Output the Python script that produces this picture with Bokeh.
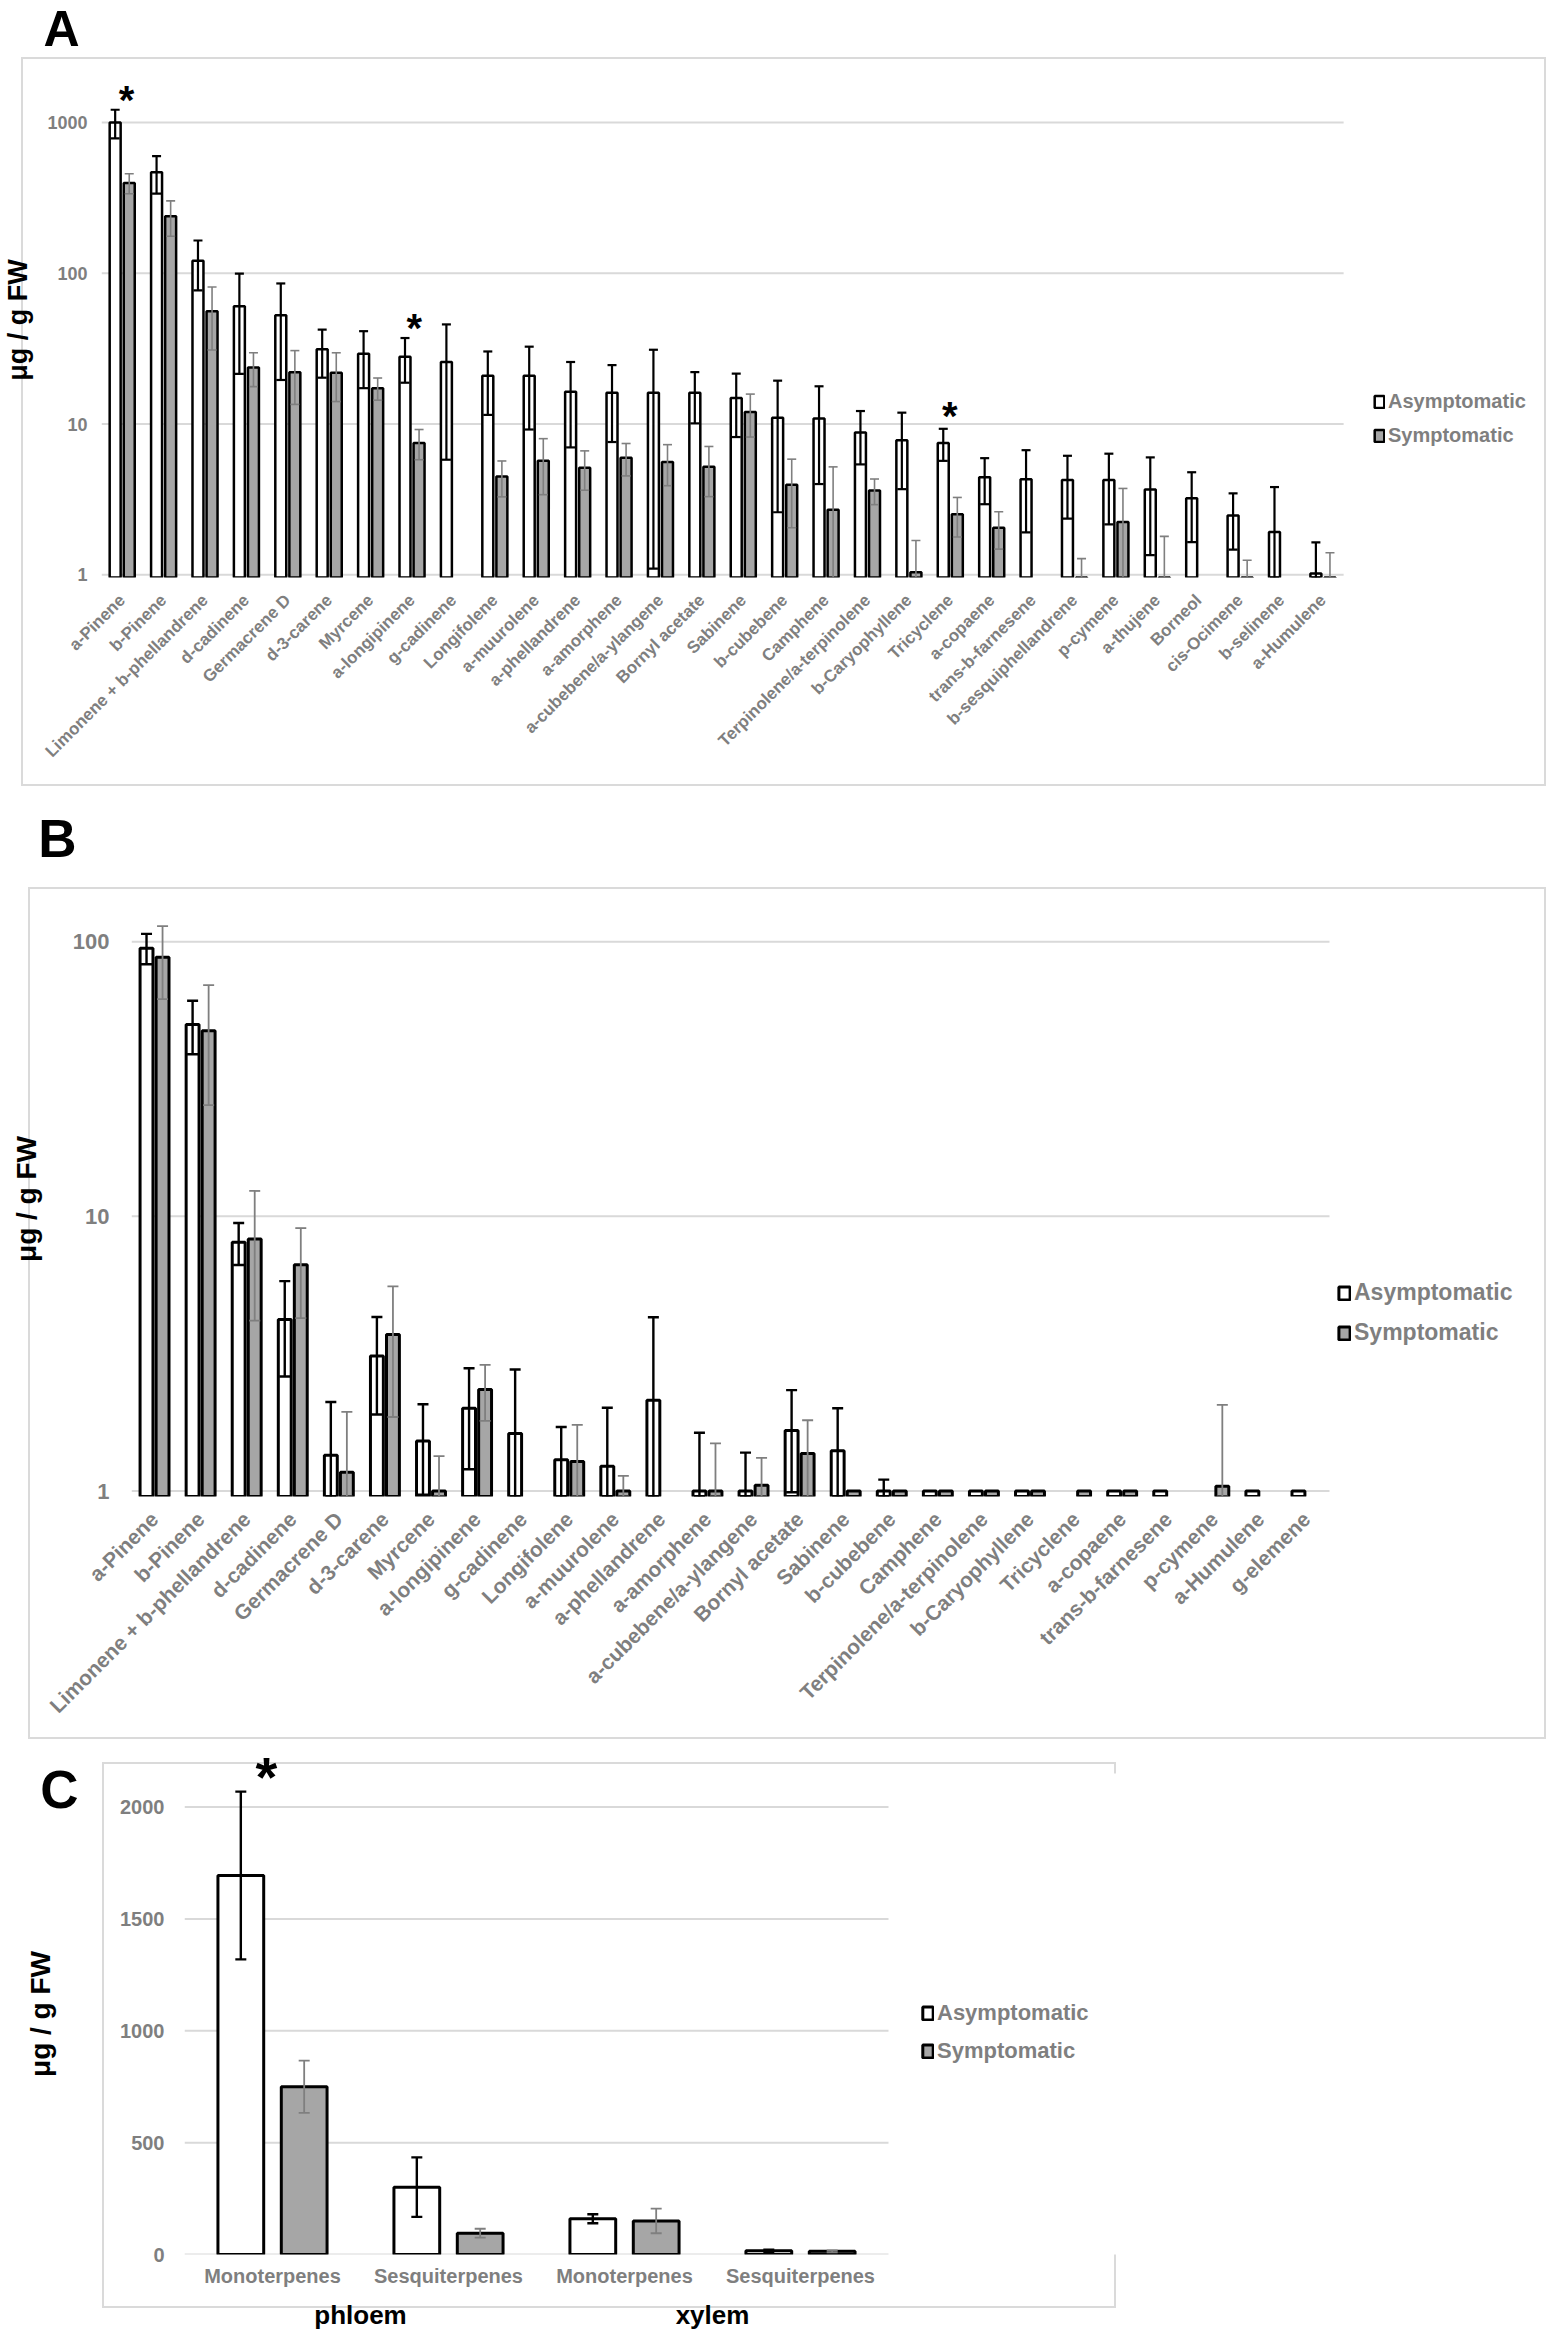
import math
from bokeh.plotting import figure
from bokeh.models import (ColumnDataSource, FactorRange, Range1d, FixedTicker, NumeralTickFormatter,
                          Whisker, TeeHead, Legend, LegendItem, Label)
from bokeh.transform import dodge
from bokeh.embed import file_html
from bokeh.resources import INLINE

# ---------------- data: panel A (log scale) ----------------
A_names = ["a-Pinene", "b-Pinene", "Limonene + b-phellandrene", "d-cadinene", "Germacrene D",
           "d-3-carene", "Myrcene", "a-longipinene", "g-cadinene", "Longifolene", "a-muurolene",
           "a-phellandrene", "a-amorphene", "a-cubebene/a-ylangene", "Bornyl acetate", "Sabinene",
           "b-cubebene", "Camphene", "Terpinolene/a-terpinolene", "b-Caryophyllene", "Tricyclene",
           "a-copaene", "trans-b-farnesene", "b-sesquiphellandrene", "p-cymene", "a-thujene",
           "Borneol", "cis-Ocimene", "b-selinene", "a-Humulene"]
A_asym = [1000, 468, 121, 60.5, 52.6, 31.3, 29.3, 28.0, 25.8, 20.9, 20.9, 16.4, 16.1, 16.1, 16.1,
          14.9, 11.0, 10.9, 8.8, 7.8, 7.5, 4.44, 4.31, 4.26, 4.26, 3.68, 3.22, 2.47, 1.92, 1.02]
A_asym_err = [215, 130, 44, 39, 33, 11, 12, 9.2, 20, 9.4, 11.7, 9.4, 8.5, 15, 6, 6.7, 8.4, 6.9,
              3.4, 4.1, 1.8, 1.5, 2.4, 1.9, 2.1, 2.33, 1.57, 1.0, 1.9, 0.62]
A_sym = [397, 239, 56, 23.7, 22.1, 21.9, 17.3, 7.5, None, 4.49, 5.7, 5.14, 5.98, 5.6, 5.2, 12.0,
         3.95, 2.7, 3.62, 1.04, 2.52, 2.05, None, 0.4, 2.24, 0.6, None, 0.5, None, 0.5]
A_sym_err = [60, 63, 25, 6, 8.6, 7.8, 2.9, 1.7, None, 1.2, 2.3, 1.5, 1.45, 1.7, 1.9, 3.8, 1.9, 2.5,
             0.7, 0.65, 0.74, 0.57, None, 0.88, 1.5, 1.2, None, 0.75, None, 0.9]
A_stars = ["a-Pinene", "a-longipinene", "Tricyclene"]

# ---------------- data: panel B (log scale) ----------------
B_names = ["a-Pinene", "b-Pinene", "Limonene + b-phellandrene", "d-cadinene", "Germacrene D",
           "d-3-carene", "Myrcene", "a-longipinene", "g-cadinene", "Longifolene", "a-muurolene",
           "a-phellandrene", "a-amorphene", "a-cubebene/a-ylangene", "Bornyl acetate", "Sabinene",
           "b-cubebene", "Camphene", "Terpinolene/a-terpinolene", "b-Caryophyllene", "Tricyclene",
           "a-copaene", "trans-b-farnesene", "p-cymene", "a-Humulene", "g-elemene"]
B_asym = [94.7, 49.9, 8.05, 4.21, 1.35, 3.1, 1.52, 2.0, 1.62, 1.30, 1.23, 2.14, 1.0, 1.0, 1.66,
          1.40, 1.0, 1.0, 1.0, 1.0, None, 1.0, 1.0, None, 1.0, 1.0]
B_asym_err = [12, 11, 1.4, 1.6, 0.76, 1.2, 0.55, 0.8, 1.15, 0.41, 0.78, 2.15, 0.63, 0.38, 0.67,
              0.6, 0.1, None, None, None, None, None, None, None, None, None]
B_sym = [87.8, 47.4, 8.27, 6.66, 1.17, 3.71, 1.0, 2.34, None, 1.28, 1.0, None, 1.0, 1.05, 1.37,
         1.0, 1.0, 1.0, 1.0, 1.0, 1.0, 1.0, None, 1.04, None, None]
B_sym_err = [26, 22, 4.1, 2.4, 0.77, 1.85, 0.34, 0.54, None, 0.46, 0.135, None, 0.49, 0.27, 0.44,
             None, None, None, None, None, None, None, None, 1.02, None, None]

# ---------------- data: panel C (linear scale) ----------------
C_tissue = ["phloem", "phloem", "xylem", "xylem"]
C_class = ["Monoterpenes", "Sesquiterpenes", "Monoterpenes", "Sesquiterpenes"]
C_asym = [1694, 301, 160, 17]
C_asym_err = [375, 133, 20, 5]
C_sym = [750, 95, 150, 14]
C_sym_err = [117, 20, 55, 4]
C_ticks = [0, 500, 1000, 1500, 2000]
C_stars = [("phloem", "Monoterpenes")]

LOG_TICKS_A = [1, 10, 100, 1000]
LOG_TICKS_B = [1, 10, 100]

# ---------------- styling ----------------
FONT = "Liberation Sans"
TXT_GRAY = "#7f7f7f"
GRID = "#d9d9d9"
BOXC = "#dadada"
SYM_FILL = "#a6a6a6"
ERR_GRAY = "#7f7f7f"
W = 1548


def sources(keys, vals, errs, floor):
    bars = dict(k=[], v=[])
    wh = dict(k=[], lo=[], hi=[])
    for n, v, e in zip(keys, vals, errs):
        if v is None:
            continue
        bars["k"].append(n)
        bars["v"].append(v)
        if e is not None and e > 0:
            wh["k"].append(n)
            wh["lo"].append(max(v - e, floor))
            wh["hi"].append(v + e)
    return ColumnDataSource(bars), ColumnDataSource(wh)


def box_styles(x0, y0, x1, y1, t=2):
    # chart-area border drawn as CSS background lines (canvas pixels)
    w, h = x1 - x0, y1 - y0
    g = f"linear-gradient({BOXC},{BOXC})"
    return {
        "background-image": ", ".join([g] * 4),
        "background-position": f"{x0}px {y0}px, {x0}px {y1}px, {x0}px {y0}px, {x1}px {y0}px",
        "background-size": f"{w + t}px {t}px, {w + t}px {t}px, {t}px {h + t}px, {t}px {h + t}px",
        "background-repeat": "no-repeat",
    }


def build(names, asym, asym_err, sym, sym_err, c):
    n = len(names)
    if c["categorical"]:
        xr = FactorRange(factors=list(names) + c["pad_factors"], range_padding=0,
                         factor_padding=0, group_padding=0, subgroup_padding=0)
        keys = list(names)
        base = lambda o: dodge("k", o, range=xr)
    else:
        xr = Range1d(0, c["x_end"])
        keys = [i + 0.5 for i in range(n)]           # category centres on the numeric scale
        base = lambda o: dodge("k", o)
    p = figure(width=W, height=c["H"], x_range=xr, y_range=(c["y0"], c["y1"]),
               y_axis_type=c["ytype"], output_backend="svg", toolbar_location=None,
               min_border_left=c["bl"], min_border_right=c["br"],
               min_border_top=c["bt"], min_border_bottom=c["bb"],
               styles=box_styles(*c["box"]))
    p.outline_line_color = None
    p.background_fill_color = "white"
    p.border_fill_color = None

    # horizontal gridlines limited to the category area
    p.segment(x0=[0] * len(c["ticks"]), x1=[n] * len(c["ticks"]), y0=c["ticks"], y1=c["ticks"],
              line_color=GRID, line_width=2)

    sa, wa = sources(keys, asym, asym_err, c["y0"])
    ss, ws = sources(keys, sym, sym_err, c["y0"])
    off, bw = c["off"], c["bw"]
    ra = p.vbar(x=base(-off), top="v", bottom=c["y0"], width=bw, source=sa,
                fill_color="white", line_color="black", line_width=c["lw"])
    rs = p.vbar(x=base(off), top="v", bottom=c["y0"], width=bw, source=ss,
                fill_color=SYM_FILL, line_color="black", line_width=c["lw"])
    for src, o, col, elw in ((wa, -off, "black", c["elw"]), (ws, off, ERR_GRAY, c["elw2"])):
        wk = Whisker(source=src, base=base(o), lower="lo", upper="hi",
                     line_color=col, line_width=elw, level="overlay",
                     upper_head=TeeHead(size=c["cap"], line_color=col, line_width=elw),
                     lower_head=TeeHead(size=c["cap"], line_color=col, line_width=elw))
        p.add_layout(wk)

    p.yaxis.ticker = FixedTicker(ticks=c["ticks"])
    p.yaxis.formatter = NumeralTickFormatter(format="0")
    p.ygrid.grid_line_color = None
    p.xgrid.grid_line_color = None
    if not c["categorical"]:
        p.xaxis.ticker = FixedTicker(ticks=keys)
        p.xaxis.major_label_overrides = {k: nm for k, nm in zip(keys, names)}
    for ax in (p.xaxis[0], p.yaxis[0]):
        ax.axis_line_color = None
        ax.major_tick_line_color = None
        ax.minor_tick_line_color = None
        ax.major_tick_out = 0
        ax.minor_tick_out = 0
        ax.major_tick_in = 0
        ax.major_label_text_font = FONT
        ax.major_label_text_font_style = "bold"
        ax.major_label_text_color = TXT_GRAY
    p.yaxis.major_label_text_font_size = c["tick_fs"]
    p.yaxis.major_label_standoff = c["tick_so"]
    p.yaxis.axis_label = "μg / g FW"
    p.yaxis.axis_label_text_font = FONT
    p.yaxis.axis_label_text_font_style = "bold"
    p.yaxis.axis_label_text_color = "black"
    p.yaxis.axis_label_text_font_size = c["title_fs"]
    p.yaxis.axis_label_standoff = c["title_so"]
    p.xaxis.major_label_text_font_size = c["cat_fs"]
    p.xaxis.major_label_standoff = c["cat_so"]
    p.xaxis.major_label_orientation = c["angle"] if c["angle"] else "horizontal"

    leg = Legend(items=[LegendItem(label="Asymptomatic", renderers=[ra]),
                        LegendItem(label="Symptomatic", renderers=[rs])],
                 location=c["leg_loc"], orientation="vertical",
                 border_line_color=None, background_fill_alpha=0,
                 label_text_font=FONT, label_text_font_style="bold",
                 label_text_color=TXT_GRAY, label_text_font_size=c["leg_fs"],
                 glyph_width=c["gw"], glyph_height=c["gh"], label_standoff=3,
                 spacing=c["leg_sp"], padding=0, margin=0, label_height=18)
    p.add_layout(leg)
    return p


def text_label(p, x, y, t, fs, place):
    lab = Label(x=x, y=y, text=t, text_font=FONT, text_font_style="bold",
                text_font_size=fs, text_color="black", text_align="center",
                text_baseline="middle")
    if place == "center":
        p.add_layout(lab)
    else:
        p.add_layout(lab, place)


# ================= Panel A (canvas at page y 0..800) =================
pitchA = (1343 - 100) / 30.0
cA = dict(categorical=False, x_end=(1532 - 100) / pitchA, H=800, y0=0.96, y1=2500, ytype="log",
          bl=100, br=16, bt=62, bb=223,
          off=0.17, bw=0.265, lw=2.5, elw=2.2, elw2=1.6, cap=9, ticks=LOG_TICKS_A,
          tick_fs="18px", tick_so=14, title_fs="27px", title_so=11, cat_fs="17px",
          cat_so=20, angle=math.pi / 4, leg_loc=(1272, 130), leg_fs="20px", gw=12, gh=15,
          leg_sp=11, box=(21, 57, 1544, 784))
pA = build(A_names, A_asym, A_asym_err, A_sym, A_sym_err, cA)
FLA, FBA = 100.0, 577.0
decA = 515.0 / math.log10(2500 / 0.96)
axA = lambda px: (px - FLA) / pitchA
ayA = lambda py: 10 ** (math.log10(0.96) + (FBA - py) / decA)
text_label(pA, axA(60), ayA(28), "A", "50px", "above")
for nm, px, py in zip(A_stars, [125, 413, 949], [89.5, 317, 405]):
    text_label(pA, axA(px), ayA(py + 10), "*", "40px", "center")

# ================= Panel B (canvas at page y 800..1745) =================
pitchB = (1329 - 131) / 26.0
cB = dict(categorical=False, x_end=(1532 - 131) / pitchB, H=945, y0=0.955, y1=140, ytype="log",
          bl=131, br=16, bt=101, bb=249,
          off=0.174, bw=0.28, lw=3, elw=2.4, elw2=1.8, cap=11, ticks=LOG_TICKS_B,
          tick_fs="22px", tick_so=22, title_fs="28px", title_so=28, cat_fs="21px",
          cat_so=19, angle=math.pi / 4, leg_loc=(1206, 150), leg_fs="23px", gw=14, gh=16,
          leg_sp=13, box=(28, 87, 1544, 937))
pB = build(B_names, B_asym, B_asym_err, B_sym, B_sym_err, cB)
FLB, FBB = 131.0, 800.0 + 945 - 249
decB = 595.0 / math.log10(140 / 0.955)
axB = lambda px: (px - FLB) / pitchB
ayB = lambda py: 10 ** (math.log10(0.955) + (FBB - py) / decB)
text_label(pB, axB(57), ayB(838), "B", "53px", "above")

# ================= Panel C (canvas at page y 1745..2333) =================
C_factors = list(zip(C_tissue, C_class))
cC = dict(categorical=True, pad_factors=[(" ", " "), ("  ", "  ")], H=588, y0=0, y1=2150,
          ytype="linear", bl=184, br=W - 184 - 6 * 176, bt=28, bb=79,
          off=0.18, bw=0.26, lw=3, elw=2.4, elw2=1.8, cap=11, ticks=C_ticks,
          tick_fs="20px", tick_so=20, title_fs="28px", title_so=61, cat_fs="20px",
          cat_so=10, angle=None, leg_loc=(737, 190), leg_fs="22px", gw=13, gh=16,
          leg_sp=12, box=(102, 17, 1114, 561))
pC = build(C_factors, C_asym, C_asym_err, C_sym, C_sym_err, cC)
pC.xaxis.group_text_font = FONT
pC.xaxis.group_text_font_style = "bold"
pC.xaxis.group_text_font_size = "26px"
pC.xaxis.group_text_color = "black"
pC.xaxis.separator_line_color = None
FLC, pitchC, FBC = 184.0, 176.0, 2254.0
hC = 588 - 28 - 79
axC = lambda px: (px - FLC) / pitchC
ayC = lambda py: (FBC - py) * 2150.0 / hC
text_label(pC, axC(59), ayC(1789), "C", "53px", "right")
for f in C_stars:
    text_label(pC, axC(266), ayC(1762 + 14), "*", "56px", "right")

open("out.html", "w").write(file_html([pA, pB, pC], INLINE))
